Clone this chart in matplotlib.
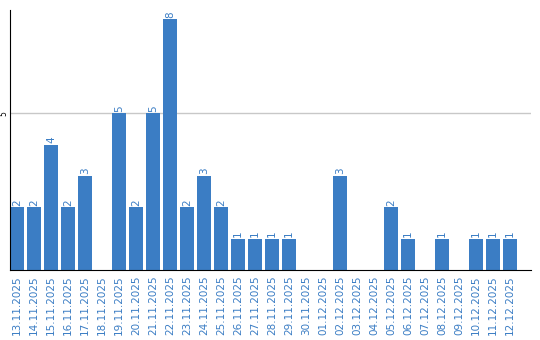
import matplotlib
matplotlib.use("Agg")
import matplotlib.pyplot as plt

dates = ["13.11.2025","14.11.2025","15.11.2025","16.11.2025","17.11.2025","18.11.2025",
         "19.11.2025","20.11.2025","21.11.2025","22.11.2025","23.11.2025","24.11.2025",
         "25.11.2025","26.11.2025","27.11.2025","28.11.2025","29.11.2025","30.11.2025",
         "01.12.2025","02.12.2025","03.12.2025","04.12.2025","05.12.2025","06.12.2025",
         "07.12.2025","08.12.2025","09.12.2025","10.12.2025","11.12.2025","12.12.2025"]
values = [2,2,4,2,3,0,5,2,5,8,2,3,2,1,1,1,1,0,0,3,0,0,2,1,0,1,0,1,1,1]

blue = "#3b7dc4"
fig = plt.figure(figsize=(5.4, 3.4), dpi=100)
ax = fig.add_axes([10/540, 70/340, 521/540, 260/340])
x = list(range(len(dates)))
w = 14/17
ax.bar(x, values, width=w, color=blue, zorder=2)
for xi, v in zip(x, values):
    if v > 0:
        ax.text(xi, v + 0.05, str(v), rotation=90, ha="center", va="bottom",
                color=blue, fontsize=7.5)
ax.set_xlim(-w/2, -w/2 + 521/17)
ax.set_ylim(0, 8.3)
ax.set_yticks([5])
ax.set_yticklabels(["5"], rotation=90, va="center", fontsize=5.5)
ax.axhline(5, color="#c8c8c8", lw=1, zorder=1)
ax.set_xticks(x)
ax.set_xticklabels(dates, rotation=90, color=blue, fontsize=7.5)
ax.tick_params(axis="x", length=0, pad=4)
ax.tick_params(axis="y", length=0, pad=1)
for s in ["top", "right"]:
    ax.spines[s].set_visible(False)
ax.spines["left"].set_color("black")
ax.spines["bottom"].set_color("black")
fig.savefig("out.png", dpi=100)
